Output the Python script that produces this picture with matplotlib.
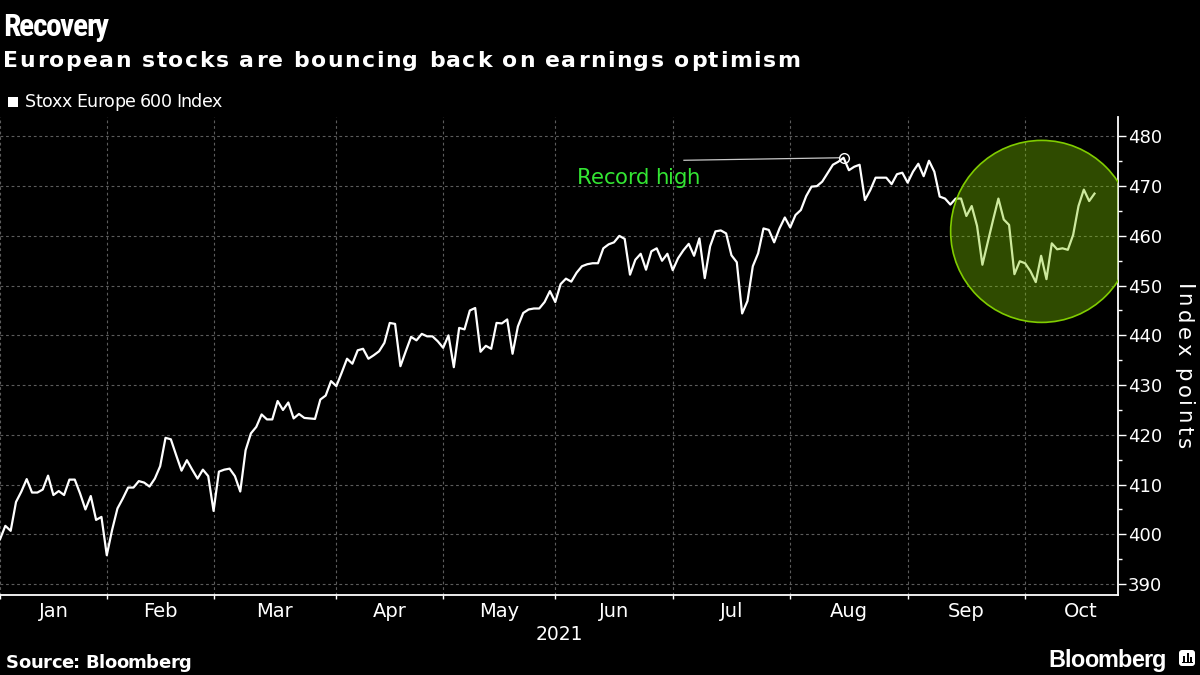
import matplotlib
matplotlib.use('Agg')
import matplotlib.pyplot as plt
from matplotlib import font_manager
from matplotlib.font_manager import FontProperties
from matplotlib.ft2font import FT2Font
from matplotlib.patches import Ellipse, Rectangle, FancyBboxPatch
import numpy as np

# ---------------- data ----------------
title = 'Recovery'
subtitle = 'European stocks are bouncing back on earnings optimism'
series_name = 'Stoxx Europe 600 Index'
source_text = 'Source: Bloomberg'
brand_text = 'Bloomberg'
ylabel_text = 'Index points'
year_label = '2021'
annotation_text = 'Record high'

months = ['Jan', 'Feb', 'Mar', 'Apr', 'May', 'Jun', 'Jul', 'Aug', 'Sep', 'Oct']
month_trading_days = [20, 20, 23, 20, 21, 22, 22, 22, 22, 21]
yticks = [390, 400, 410, 420, 430, 440, 450, 460, 470, 480]

index_values = [
    399.0, 401.7, 400.7, 406.5, 408.6, 411.1, 408.4, 408.4, 409.0, 411.8,
    407.9, 408.7, 407.9, 411.0, 411.0, 408.2, 405.0, 407.7, 402.9, 403.5,
    395.8, 400.9, 405.2, 407.2, 409.4, 409.4, 410.7, 410.4, 409.6, 411.2,
    413.7, 419.4, 419.1, 415.9, 412.8, 414.9, 413.0, 411.2, 413.0, 411.7,
    404.7, 412.6, 413.0, 413.2, 411.7, 408.6, 416.9, 420.3, 421.6, 424.1,
    423.1, 423.1, 426.8, 425.0, 426.5, 423.3, 424.2, 423.4, 423.3, 423.2,
    427.1, 427.9, 430.8, 429.8, 432.5, 435.3, 434.3, 437.0, 437.3, 435.3,
    436.0, 436.8, 438.5, 442.5, 442.3, 433.8, 436.8, 439.7, 439.0, 440.3,
    439.8, 439.8, 438.8, 437.5, 440.0, 433.6, 441.5, 441.2, 445.0, 445.5,
    436.7, 437.9, 437.3, 442.5, 442.4, 443.2, 436.3, 441.8, 444.5, 445.2,
    445.4, 445.4, 446.7, 448.9, 446.7, 450.3, 451.4, 450.8, 452.6, 453.9,
    454.3, 454.5, 454.5, 457.5, 458.3, 458.7, 460.0, 459.4, 452.2, 455.2,
    456.4, 453.2, 456.9, 457.5, 455.0, 456.4, 453.1, 455.5, 457.1, 458.4,
    456.0, 459.5, 451.5, 457.9, 460.9, 461.1, 460.5, 456.1, 454.7, 444.4,
    446.9, 453.9, 456.5, 461.5, 461.2, 458.7, 461.5, 463.7, 461.7, 464.2,
    465.2, 468.0, 469.9, 470.0, 470.9, 472.6, 474.3, 474.9, 475.7, 473.2,
    473.9, 474.3, 467.2, 469.2, 471.7, 471.7, 471.7, 470.4, 472.4, 472.7,
    470.7, 472.9, 474.5, 472.0, 475.1, 472.9, 467.9, 467.5, 466.3, 467.5,
    467.5, 464.0, 466.0, 462.0, 454.2, 458.7, 463.2, 467.5, 463.3, 462.2,
    452.3, 454.9, 454.5, 452.9, 450.7, 456.0, 451.3, 458.5, 457.3, 457.5,
    457.2, 460.2, 466.0, 469.3, 467.0, 468.5,
]

# ---------------- helpers ----------------
W, H = 1200, 675
fig = plt.figure(figsize=(12, 6.75), dpi=100, facecolor='black')


def fx(x):
    return x / W


def fy(y):
    return 1 - y / H


def find_path(family, weight='normal', stretch='normal', must=None):
    try:
        p = font_manager.findfont(FontProperties(family=family, weight=weight, stretch=stretch),
                                  fallback_to_default=False)
    except Exception:
        return None
    if must:
        low = p.lower()
        if not any(m in low for m in must):
            return None
    return p


def first_path(cands):
    for c in cands:
        p = find_path(*c[:3], must=c[3] if len(c) > 3 else None)
        if p:
            return p, True
    return None, False


reg_path, _ = first_path([('DejaVu Sans', 'normal', 'normal')])
bold_path, _ = first_path([('DejaVu Sans', 'bold', 'normal')])
narrow_keys = ('narrow', 'condensed', 'cond')
title_path, is_narrow = first_path([
    ('Liberation Sans Narrow', 'bold', 'normal', narrow_keys),
    ('Roboto Condensed', 'bold', 'normal', narrow_keys),
    ('Noto Sans Condensed', 'bold', 'normal', narrow_keys),
    ('Open Sans Condensed', 'bold', 'normal', narrow_keys),
    ('Noto Sans', 'bold', 'condensed', narrow_keys),
    ('DejaVu Sans', 'bold', 'condensed', narrow_keys),
    ('Roboto', 'bold', 'condensed', narrow_keys),
])
if title_path is None:
    title_path, _ = first_path([('Liberation Sans', 'bold', 'normal'), ('DejaVu Sans', 'bold', 'normal')])
brand_path, _ = first_path([('Liberation Sans', 'bold', 'normal'), ('DejaVu Sans', 'bold', 'normal')])


def tracked(text, x, y, path, cap_px, width_px=None, color='white', vertical=False,
            zorder=5, min_track=-0.6):
    f = FT2Font(path)
    f.set_size(100, 72)
    g = f.load_char(ord('H'))
    cap_ratio = (g.height / 64.0) / 100.0
    em = cap_px / cap_ratio
    f.set_size(em, 72)
    adv = [f.load_char(ord(c)).linearHoriAdvance / 65536.0 for c in text]
    t = 0.0
    if width_px is not None and len(text) > 1:
        t = (width_px - sum(adv)) / (len(text) - 1)
        if t < min_track:
            # shrink instead of overlapping glyphs
            t = min_track
            scale = (width_px - t * (len(text) - 1)) / sum(adv)
            scale = max(scale, 0.8)
            em *= scale
            f.set_size(em, 72)
            adv = [f.load_char(ord(c)).linearHoriAdvance / 65536.0 for c in text]
    prop = FontProperties(fname=path, size=em * 0.72)
    pos = 0.0
    for c, a in zip(text, adv):
        if c != ' ':
            if vertical:
                fig.text(fx(x), fy(y + pos), c, fontproperties=prop, color=color,
                         rotation=-90, rotation_mode='anchor', ha='left', va='baseline',
                         zorder=zorder)
            else:
                fig.text(fx(x + pos), fy(y), c, fontproperties=prop, color=color,
                         ha='left', va='baseline', zorder=zorder)
        pos += a + t


# ---------------- axes ----------------
ax_left, ax_right, ax_top, ax_bottom = 0, 1118, 117, 595
ax = fig.add_axes([fx(ax_left), fy(ax_bottom), (ax_right - ax_left) / W, (ax_bottom - ax_top) / H])
ax.set_facecolor('black')

x = np.arange(len(index_values))
ax.plot(x, index_values, color='white', lw=1.6, zorder=3)

bounds = np.concatenate([[0], np.cumsum(month_trading_days)])
xspan = 209.4
ax.set_xlim(0, xspan)
ax.set_ylim(387.8, 483.9)

ax.set_xticks(bounds[:-1])
ax.set_xticklabels([])
mids = (bounds[:-1] + bounds[1:]) / 2.0
ax.set_xticks(mids, minor=True)
ax.set_xticklabels(months, minor=True)
ax.tick_params(axis='x', which='major', length=3, width=1, color='white', direction='out')
ax.tick_params(axis='x', which='minor', length=0, labelsize=14, labelcolor='white', pad=5)
for lab in ax.get_xticklabels(minor=True):
    lab.set_fontproperties(FontProperties(fname=reg_path, size=14))

ax.yaxis.tick_right()
ax.set_yticks(yticks)
ax.set_yticks([v + 5 for v in yticks[:-1]], minor=True)
ax.tick_params(axis='y', which='major', length=5.5, width=1, color='white', direction='out',
               labelsize=13, labelcolor='white', pad=1.5)
ax.tick_params(axis='y', which='minor', length=3, width=1, color='white', direction='out')
for lab in ax.get_yticklabels():
    lab.set_fontproperties(FontProperties(fname=reg_path, size=13))

for s in ['top', 'left']:
    ax.spines[s].set_visible(False)
for s in ['right', 'bottom']:
    ax.spines[s].set_color('white')
    ax.spines[s].set_linewidth(1.3)

ax.grid(True, which='major', color='#5c5c5c', linestyle=(0, (2.5, 2.5)), lw=0.8, zorder=0)
ax.set_axisbelow(True)

# px per data unit
ppx = (ax_right - ax_left) / xspan
ppy = (ax_bottom - ax_top) / (483.9 - 387.8)

# highlight circle (annotation)
circ_center = (195.1, 460.9)
circ_radius_px = 91
ell = Ellipse(circ_center, width=2 * circ_radius_px / ppx, height=2 * circ_radius_px / ppy,
              facecolor=(0.49, 0.78, 0.0, 0.38), edgecolor='#80cc00', lw=1.2, zorder=4)
ax.add_patch(ell)

# record high marker and connector
imax = int(np.argmax(index_values))
vmax = index_values[imax]
ax.plot([imax], [vmax], marker='o', ms=7, mfc='none', mec='white', mew=1.0, zorder=5)
conn_start = (128.1, 475.2)
ax.plot([conn_start[0], imax - 5 / ppx], [conn_start[1], vmax], color='#c8c8c8', lw=0.9, zorder=4)

# ---------------- texts ----------------
if is_narrow:
    tracked(title, 3, 36, title_path, 23.5, 106, min_track=-1.5)
else:
    tracked(title, 3, 36, title_path, 21.0, 128, min_track=-0.4)
tracked(subtitle, 3, 67, bold_path, 16.0, 797)
fig.patches.append(Rectangle((fx(8), fy(107)), 10 / W, 10 / H, transform=fig.transFigure,
                             facecolor='white', edgecolor='none'))
tracked(series_name, 25, 107, reg_path, 13.0, 196)
tracked(annotation_text, 577, 184, reg_path, 15.5, 123, color='#33e633')
tracked(ylabel_text, 1177, 284, reg_path, 15.5, 165, vertical=True)
fig.text(fx(559), fy(640), year_label, fontproperties=FontProperties(fname=reg_path, size=13.5),
         color='white', ha='center', va='baseline')
tracked(source_text, 6, 668, bold_path, 13.3, 185)
tracked(brand_text, 1048, 667, brand_path, 16.7, 119)

# Bloomberg icon
icon = FancyBboxPatch((1179, H - 666), 16, 16, boxstyle='round,pad=0,rounding_size=3',
                      transform=None, facecolor='white', edgecolor='none')
fig.patches.append(icon)
for bx, bh in [(1183, 6), (1186.5, 9), (1190, 5)]:
    fig.patches.append(Rectangle((bx, H - 662), 2, bh, transform=None,
                                 facecolor='black', edgecolor='none'))
fig.patches.append(Rectangle((1182, H - 663), 11, 1.2, transform=None,
                             facecolor='black', edgecolor='none'))

fig.savefig('out.png', dpi=100, facecolor='black')
